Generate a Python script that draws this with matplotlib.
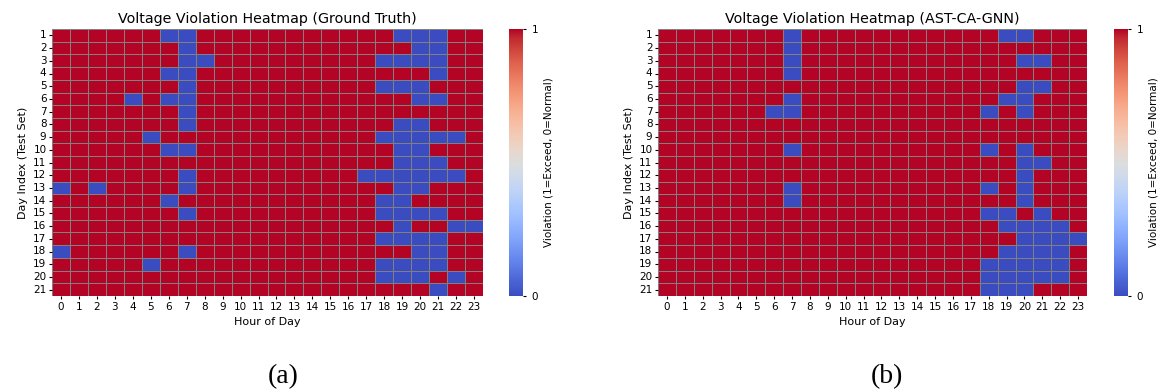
import numpy as np
import matplotlib
matplotlib.use("Agg")
import matplotlib.pyplot as plt
import seaborn as sns

plt.rcParams["font.family"] = ["DejaVu Sans"]

HOURS = list(range(24))
DAYS = list(range(1, 22))

# hours with normal voltage (0) per test day; everything else is 1 (exceed)
GT_NORMAL = [
    [6, 7, 19, 20, 21],
    [7, 20, 21],
    [7, 8, 18, 19, 20, 21],
    [6, 7, 21],
    [7, 18, 19, 20],
    [4, 6, 7, 20, 21],
    [7],
    [7, 19, 20],
    [5, 18, 19, 20, 21, 22],
    [6, 7, 19, 20],
    [19, 20, 21],
    [7, 17, 18, 19, 20, 21, 22],
    [0, 2, 7, 19, 20],
    [6, 18, 19],
    [7, 18, 19, 20, 21],
    [19, 22, 23],
    [18, 19, 20, 21],
    [0, 7, 20, 21],
    [5, 18, 19, 20, 21],
    [18, 19, 20, 22],
    [21],
]
PRED_NORMAL = [
    [7, 19, 20],
    [7],
    [7, 20, 21],
    [7],
    [20, 21],
    [7, 19, 20],
    [6, 7, 18, 20],
    [],
    [],
    [7, 18, 20],
    [20, 21],
    [20],
    [7, 18, 20],
    [7, 20],
    [18, 19, 21],
    [19, 20, 21, 22],
    [20, 21, 22, 23],
    [19, 20, 21, 22],
    [18, 19, 20, 21, 22],
    [18, 19, 20, 21, 22],
    [18, 19, 20],
]


def to_matrix(normal):
    m = np.ones((len(DAYS), len(HOURS)))
    for i, hrs in enumerate(normal):
        m[i, hrs] = 0
    return m


W, H = 1161, 392
fig = plt.figure(figsize=(W / 100, H / 100), dpi=100)

panels = [
    (GT_NORMAL, "Voltage Violation Heatmap (Ground Truth)", 52, 431, 509, "(a)", 283),
    (PRED_NORMAL, "Voltage Violation Heatmap (AST-CA-GNN)", 658, 429, 1114, "(b)", 887),
]
for normal, title, x0, w, cx, tag, tx in panels:
    ax = fig.add_axes([x0 / W, 96 / H, w / W, 267 / H])
    cax = fig.add_axes([cx / W, 96 / H, 14 / W, 267 / H])
    sns.heatmap(to_matrix(normal), ax=ax, cbar_ax=cax, cmap="coolwarm",
                vmin=0, vmax=1, linewidths=0.72, linecolor="gray",
                xticklabels=HOURS, yticklabels=DAYS,
                cbar_kws={"label": "Violation (1=Exceed, 0=Normal)", "ticks": [0, 1]})
    ax.set_title(title, fontsize=10.3, pad=4)
    ax.set_xlabel("Hour of Day", fontsize=8)
    ax.set_ylabel("Day Index (Test Set)", fontsize=8)
    ax.tick_params(labelsize=7.5, length=2.5, pad=1.5)
    ax.set_yticklabels(DAYS, rotation=0)
    ax.set_xticklabels(HOURS, rotation=0)
    cax.tick_params(labelsize=7.5, length=2.5)
    cax.yaxis.label.set_size(7.5)
    fig.text(tx / W, 15 / H, tag, ha="center", va="center",
             fontsize=20, family="Liberation Serif")

fig.savefig("out.png", dpi=100)
